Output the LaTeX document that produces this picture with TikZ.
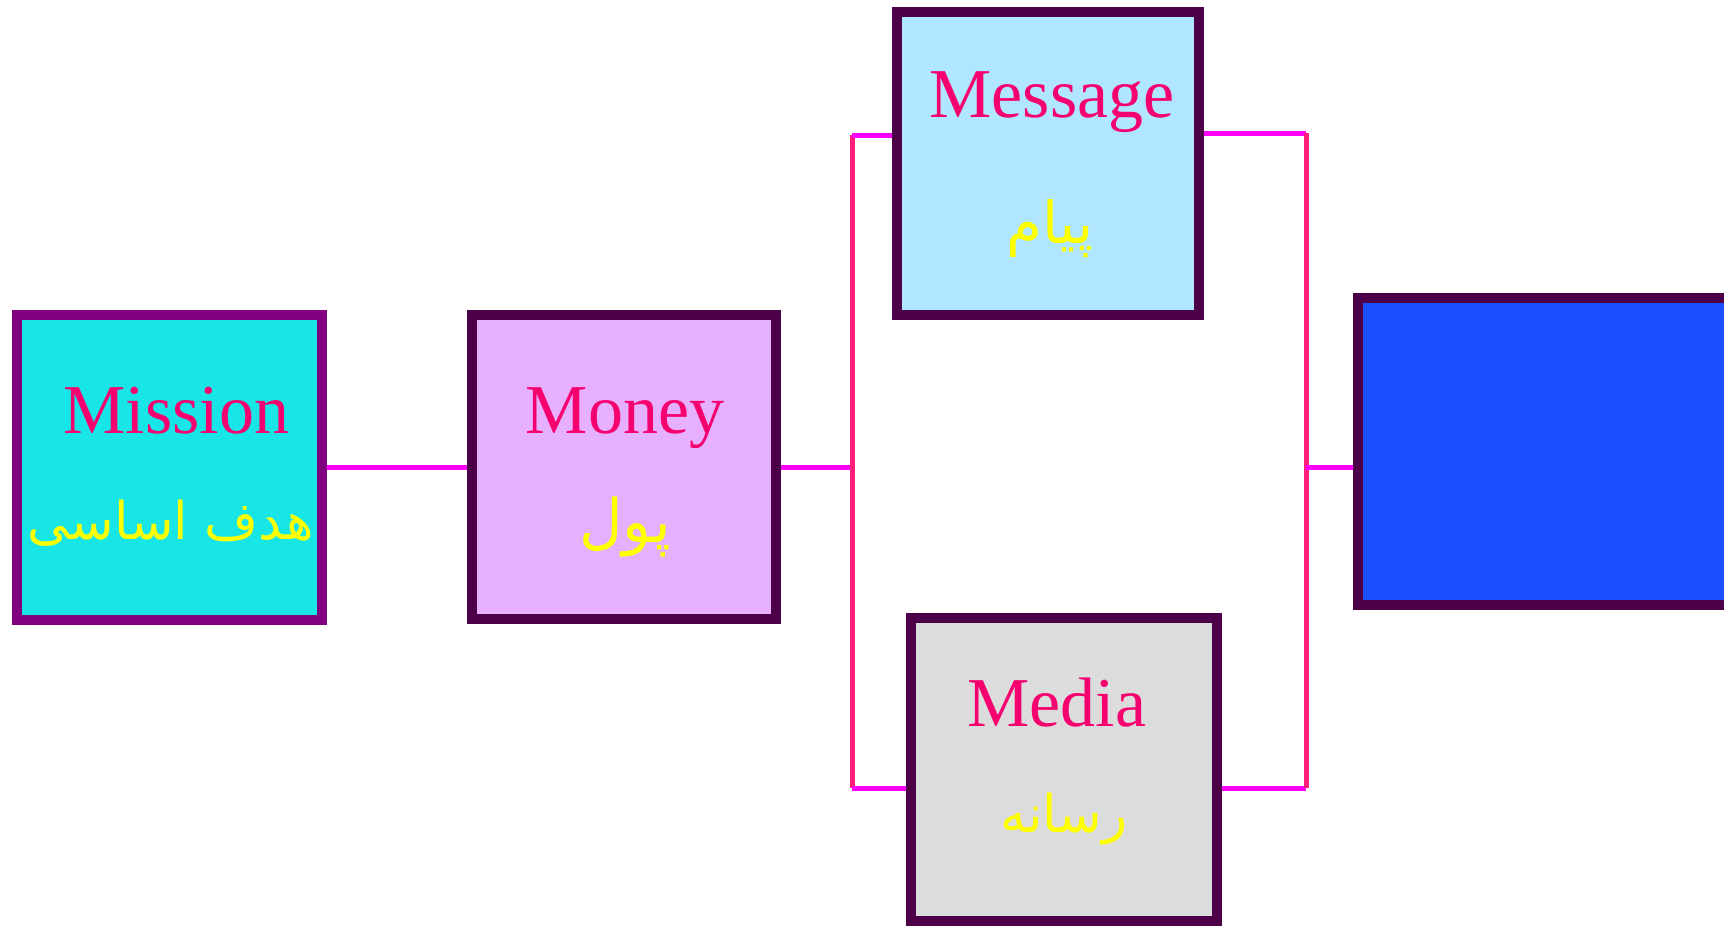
\documentclass[tikz,border=0pt]{standalone}
\usepackage{fontspec}
\setmainfont{Liberation Serif}
\newfontfamily\arabicfont[Script=Arabic]{DejaVu Sans}
\TeXXeTstate=1
\definecolor{missionfill}{RGB}{24,230,230}
\definecolor{moneyfill}{RGB}{230,176,255}
\definecolor{messagefill}{RGB}{176,230,255}
\definecolor{mediafill}{RGB}{220,220,220}
\definecolor{goalfill}{RGB}{26,80,255}
\definecolor{rimdark}{RGB}{75,0,72}
\definecolor{rimpurple}{RGB}{128,0,128}
\definecolor{entextcol}{RGB}{245,0,110}
\definecolor{fatextcol}{RGB}{255,255,0}
\definecolor{linkcol}{RGB}{255,0,255}
\definecolor{barcol}{RGB}{255,30,120}
\tikzset{%
  box/.style={draw=rimdark, line width=10pt, inner sep=0pt},%
  entext/.style={anchor=base, text=entextcol, inner sep=0pt,%
    font=\fontsize{70}{84}\selectfont},%
  fatext/.style={anchor=base, text=fatextcol, inner sep=0pt,%
    font=\fontsize{52}{62}\arabicfont},%
  link/.style={draw=linkcol, line width=5pt},%
  bar/.style={draw=barcol, line width=5pt}%
}
\begin{document}
\begin{tikzpicture}[x=1pt,y=-1pt]%
  \clip (0,0) rectangle (1724,927);%
  % Boxes: name/center x/center y/width/height/fill/rim
  \foreach \name/\cx/\cy/\w/\h/\colfill/\colrim in {%
      mission/169.5/467.5/305/305/missionfill/rimpurple,%
      money/624/467/304/304/moneyfill/rimdark,%
      message/1048/163.5/302/303/messagefill/rimdark,%
      media/1064/769.5/306/303/mediafill/rimdark,%
      goal/1558/451.5/400/307/goalfill/rimdark%
    } {%
      \node[box, fill=\colfill, draw=\colrim,%
        minimum width=\w pt, minimum height=\h pt] (\name) at (\cx,\cy) {};%
    };%
  % Labels
  \node[entext] (missionEn) at ([xshift=7pt,yshift=34.5pt]mission.center) {Mission};%
  \node[fatext] (missionFa) at ([xshift=1pt,yshift=-72pt]mission.center)%
    {\beginR هدف اساسی\endR};%
  \node[entext] (moneyEn) at ([xshift=1pt,yshift=34pt]money.center) {Money};%
  \node[fatext] (moneyFa) at ([xshift=1pt,yshift=-75pt]money.center)%
    {\fontsize{60}{70}\selectfont\beginR پول\endR};%
  \node[entext] (messageEn) at ([xshift=4pt,yshift=46.5pt]message.center) {Message};%
  \node[fatext] (messageFa) at ([xshift=2pt,yshift=-80pt]message.center)%
    {\fontsize{58}{68}\selectfont\beginR پیام\endR};%
  \node[entext] (mediaEn) at ([xshift=-7pt,yshift=43.5pt]media.center) {Media};%
  \node[fatext] (mediaFa) at ([yshift=-63pt]media.center)%
    {\beginR رسانه\endR};%
  % Connectors
  \coordinate (busL) at (852,467);%
  \coordinate (busR) at (1306,467);%
  \coordinate (msgL) at ([yshift=28.5pt]message.west);%
  \coordinate (msgR) at ([yshift=30.5pt]message.east);%
  \coordinate (medL) at ([yshift=-18.5pt]media.west);%
  \coordinate (medR) at ([yshift=-18.5pt]media.east);%
  \draw[link] (mission.east) -- (mission.east -| money.west);%
  \draw[link] (money.east) -- (busL);%
  \draw[bar] (msgL -| busL) -- (medL -| busL);%
  \draw[link] (msgL -| busL) -- (msgL);%
  \draw[link] (medL -| busL) -- (medL);%
  \draw[link] (msgR) -- (msgR -| busR);%
  \draw[link] (medR) -- (medR -| busR);%
  \draw[bar] (msgR -| busR) -- (medR -| busR);%
  \draw[link] (busR) -- (busR -| goal.west);%
\end{tikzpicture}
\end{document}
